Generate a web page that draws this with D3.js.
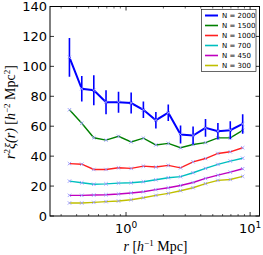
<!DOCTYPE html>
<html><head><meta charset="utf-8">
<script src="https://cdn.jsdelivr.net/npm/d3@7"></script>
<style>body{margin:0;background:#fff}svg{display:block}</style>
</head><body>
<script>
const rValues = [0.35, 0.44, 0.55, 0.69, 0.87, 1.1, 1.38, 1.74, 2.19, 2.75, 3.47, 4.37, 5.5, 6.92, 8.71];
const seriesNames = ["N = 2000", "N = 1500", "N = 1000", "N = 700", "N = 450", "N = 300"];
const seriesColors = ["#0000ff", "#008000", "#ff2020", "#00bfbf", "#bf00bf", "#bfbf00"];
const n2000 = [106, 85, 84, 76, 76, 75.5, 71, 64, 69, 54.5, 53.8, 58.9, 56.7, 57.3, 61.5];
const n2000err = [13, 8.5, 10, 8, 7, 7, 5.5, 5.5, 5.5, 6, 6, 6, 5.5, 6, 6.5];
const n1500 = [71, 62, 52.3, 50.7, 53.3, 49.5, 52, 47.5, 48.5, 45.6, 47.8, 49, 52.2, 52.2, 57.2];
const n1000 = [35, 34.6, 31.1, 31.1, 32.2, 31.8, 33.3, 32.7, 33.8, 32.2, 36.2, 38.4, 41.8, 42.9, 45.6];
const n700 = [23.3, 22.2, 21.2, 21.5, 22, 22.2, 22.9, 24.2, 25.6, 26.3, 28.9, 31.8, 34.5, 36.7, 38.6];
const n450 = [13.8, 13.8, 14, 14.2, 14.7, 15.4, 16.2, 17.6, 18.9, 20.4, 22.4, 25.1, 27.3, 29.3, 31.6];
const n300 = [8.7, 8.7, 9.1, 9.6, 10, 10.9, 12.2, 13.8, 15.1, 16.9, 18.9, 21.6, 23.8, 24.4, 26.5];
const yTicks = [0, 20, 40, 60, 80, 100, 120, 140];
const xMajor = [1, 10];

const allSeries = [n2000, n1500, n1000, n700, n450, n300];

const W = 263, H = 255;
const L = 50, R = 259.5, T = 6.5, B = 216;
const svg = d3.select("body").append("svg").attr("width", W).attr("height", H);

const x = d3.scaleLog().domain([0.244, 11.9]).range([L, R]);
const y = d3.scaleLinear().domain([0, 140]).range([B, T]);

// minor x ticks
const minor = [];
[0.1, 1, 10].forEach(d => { for (let k = 2; k <= 9; k++) { const v = d * k; if (v > 0.244 && v < 11.9) minor.push(v); } });

const g = svg.append("g");

// ticks (inward)
minor.forEach(v => {
  g.append("line").attr("x1", x(v)).attr("x2", x(v)).attr("y1", B).attr("y2", B - 2).attr("stroke", "#000").attr("stroke-width", 0.6);
  g.append("line").attr("x1", x(v)).attr("x2", x(v)).attr("y1", T).attr("y2", T + 2).attr("stroke", "#000").attr("stroke-width", 0.6);
});
xMajor.forEach(v => {
  g.append("line").attr("x1", x(v)).attr("x2", x(v)).attr("y1", B).attr("y2", B - 4).attr("stroke", "#000").attr("stroke-width", 0.8);
  g.append("line").attr("x1", x(v)).attr("x2", x(v)).attr("y1", T).attr("y2", T + 4).attr("stroke", "#000").attr("stroke-width", 0.8);
});
yTicks.forEach(v => {
  g.append("line").attr("x1", L).attr("x2", L + 4).attr("y1", y(v)).attr("y2", y(v)).attr("stroke", "#000").attr("stroke-width", 0.8);
  g.append("line").attr("x1", R).attr("x2", R - 4).attr("y1", y(v)).attr("y2", y(v)).attr("stroke", "#000").attr("stroke-width", 0.8);
  g.append("text").attr("x", L - 3).attr("y", y(v) + 4.5).attr("text-anchor", "end")
    .attr("font-family", "DejaVu Sans").attr("font-size", 13).text(v);
});
xMajor.forEach((v, i) => {
  const t = g.append("text").attr("x", x(v)).attr("y", 233).attr("text-anchor", "middle")
    .attr("font-family", "DejaVu Sans").attr("font-size", 13);
  t.append("tspan").text("10");
  t.append("tspan").attr("font-size", 9).attr("dy", -5).text(String(i));
});

// clip
svg.append("clipPath").attr("id", "clip").append("rect").attr("x", L).attr("y", T).attr("width", R - L).attr("height", B - T);
const plot = svg.append("g").attr("clip-path", "url(#clip)");

const line = d3.line().x((d, i) => x(rValues[i])).y(d => y(d));

// draw from bottom series up so blue on top
for (let s = allSeries.length - 1; s >= 0; s--) {
  const data = allSeries[s];
  if (s === 0) {
    data.forEach((v, i) => {
      plot.append("line").attr("x1", x(rValues[i])).attr("x2", x(rValues[i]))
        .attr("y1", y(v - n2000err[i])).attr("y2", y(v + n2000err[i]))
        .attr("stroke", seriesColors[0]).attr("stroke-width", 1.6);
    });
  }
  plot.append("path").attr("d", line(data)).attr("fill", "none")
    .attr("stroke", seriesColors[s]).attr("stroke-width", s === 0 ? 2 : 1.4);
  data.forEach((v, i) => {
    const cx = x(rValues[i]), cy = y(v), m = 1.7;
    plot.append("path").attr("d", `M${cx - m},${cy - m}L${cx + m},${cy + m}M${cx - m},${cy + m}L${cx + m},${cy - m}`)
      .attr("stroke", "#9a9aff").attr("stroke-width", 0.9).attr("fill", "none");
  });
}

// frame
svg.append("rect").attr("x", L).attr("y", T).attr("width", R - L).attr("height", B - T)
  .attr("fill", "none").attr("stroke", "#000").attr("stroke-width", 1);

// legend
const lg = svg.append("g");
lg.append("rect").attr("x", 201.5).attr("y", 9.5).attr("width", 54.5).attr("height", 62)
  .attr("fill", "#fff").attr("stroke", "#000").attr("stroke-width", 0.6);
seriesNames.forEach((nm, i) => {
  const yy = 15.5 + i * 10;
  lg.append("line").attr("x1", 205).attr("x2", 218).attr("y1", yy).attr("y2", yy)
    .attr("stroke", seriesColors[i]).attr("stroke-width", i === 0 ? 2 : 1.6);
  lg.append("text").attr("x", 222).attr("y", yy + 2.6).attr("font-family", "DejaVu Sans")
    .attr("font-size", 7).text(nm);
});

// axis labels
const xl = svg.append("text").attr("x", 155.5).attr("y", 251).attr("text-anchor", "middle")
  .attr("font-family", "Liberation Serif, DejaVu Serif").attr("font-size", 14);
xl.append("tspan").attr("font-style", "italic").text("r");
xl.append("tspan").text(" [");
xl.append("tspan").attr("font-style", "italic").text("h");
xl.append("tspan").attr("font-size", 9).attr("dy", -5).text("−1");
xl.append("tspan").attr("dy", 5).text(" Mpc]");

const yl = svg.append("text").attr("transform", "translate(15,112) rotate(-90)").attr("text-anchor", "middle")
  .attr("font-family", "Liberation Serif, DejaVu Serif").attr("font-size", 14);
yl.append("tspan").attr("font-style", "italic").text("r");
yl.append("tspan").attr("font-size", 9).attr("dy", -5).text("2");
yl.append("tspan").attr("dy", 5).attr("font-style", "italic").text("ξ(r)");
yl.append("tspan").text(" [");
yl.append("tspan").attr("font-style", "italic").text("h");
yl.append("tspan").attr("font-size", 9).attr("dy", -5).text("−2");
yl.append("tspan").attr("dy", 5).text(" Mpc");
yl.append("tspan").attr("font-size", 9).attr("dy", -5).text("2");
yl.append("tspan").attr("dy", 5).text("]");
</script>
</body></html>
